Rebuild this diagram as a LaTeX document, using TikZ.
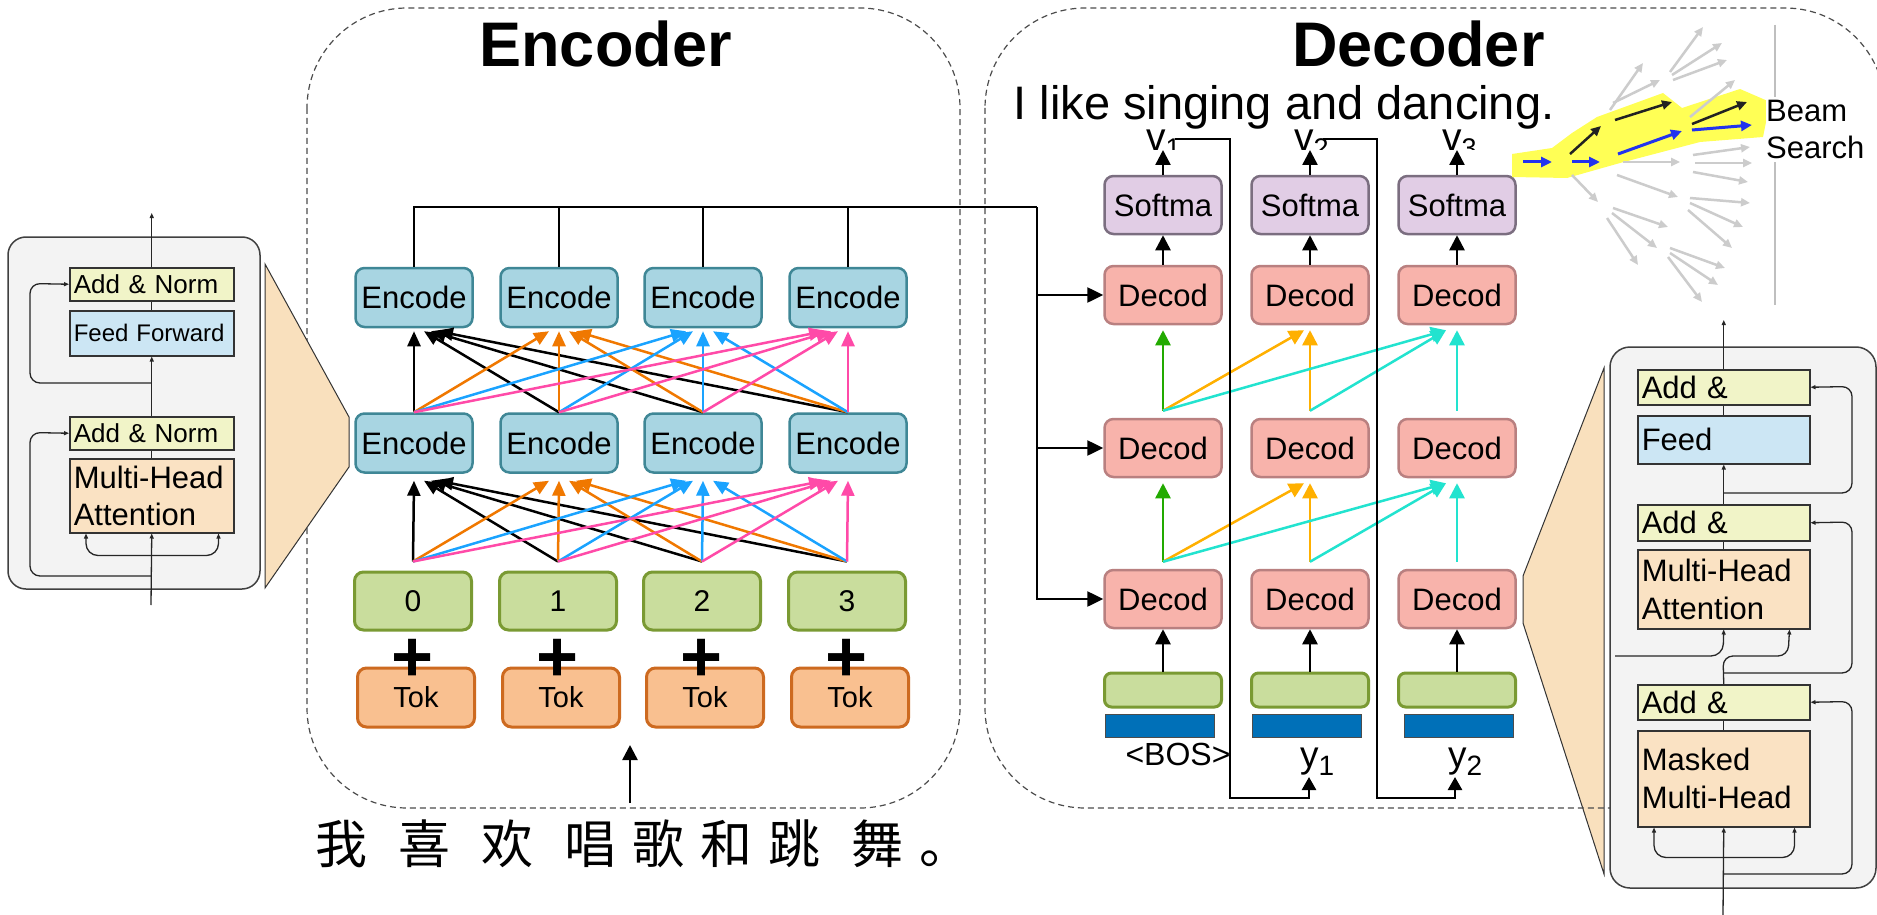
\documentclass[tikz,border=0pt]{standalone}
\usepackage{fontspec}
\setmainfont{Liberation Sans}
\newfontfamily\cjk{Noto Sans CJK SC}
\usetikzlibrary{arrows.meta}
\definecolor{encF}{HTML}{A8D5E2}
\definecolor{encD}{HTML}{3F8796}
\definecolor{smF}{HTML}{E1CDE5}
\definecolor{smD}{HTML}{7B6E80}
\definecolor{decF}{HTML}{F8B3AB}
\definecolor{decD}{HTML}{B98080}
\definecolor{grnF}{HTML}{C9DD9D}
\definecolor{grnD}{HTML}{7A9A33}
\definecolor{tokF}{HTML}{F9C090}
\definecolor{tokD}{HTML}{CD6A20}
\definecolor{barF}{HTML}{0070B8}
\definecolor{anF}{HTML}{F1F4C8}
\definecolor{ffF}{HTML}{CCE6F4}
\definecolor{mhF}{HTML}{FAE2C3}
\definecolor{panF}{HTML}{F3F3F3}
\definecolor{trapF}{HTML}{F9E0BD}
\definecolor{aOr}{HTML}{F07800}
\definecolor{aBl}{HTML}{1AA3FF}
\definecolor{aPk}{HTML}{FF4AA8}
\definecolor{aGr}{HTML}{22AA00}
\definecolor{aYe}{HTML}{FFB000}
\definecolor{aCy}{HTML}{22E3CF}
\definecolor{bsBlue}{HTML}{2233EE}
\definecolor{bsGray}{HTML}{CCCCCC}
\definecolor{bsDark}{HTML}{222222}
\definecolor{hl}{HTML}{FFFF55}
\newcommand\fs[1]{\fontsize{#1}{#1}\selectfont}
\tikzset{
  blk/.style={rounded corners=9pt, line width=2.5pt, inner sep=0pt, minimum width=117pt, minimum height=59pt, font=\fs{31}},
  encbox/.style={blk, fill=encF, draw=encD},
  smbox/.style={blk, fill=smF, draw=smD, minimum height=58pt},
  decbox/.style={blk, fill=decF, draw=decD, minimum height=58pt},
  posbox/.style={blk, fill=grnF, draw=grnD, line width=3pt, minimum height=58pt, font=\fs{30}},
  tokbox/.style={blk, fill=tokF, draw=tokD, line width=3pt, font=\fs{29}},
  embbox/.style={blk, fill=grnF, draw=grnD, line width=3pt, minimum height=34pt, rounded corners=7pt},
  barbox/.style={fill=barF, draw=black!70, line width=1pt, minimum width=109pt, minimum height=23pt, inner sep=0pt},
  conn/.style={line width=2.5pt, draw=black},
  carrow/.style={line width=2.5pt, -{Triangle[length=15pt,width=15pt]}},
  earrow/.style={line width=2.5pt, -{Triangle[length=15pt,width=13pt]}},
  pline/.style={line width=1.3pt, draw=black!85},
  parrow/.style={pline, -{Triangle[length=5pt,width=4pt]}},
  pbox/.style={draw=black!80, line width=1.5pt, inner xsep=4pt, inner ysep=0pt, align=left, anchor=north west},
  lbox/.style={pbox, text width=156pt},
  rbox/.style={pbox, text width=164pt, font=\fontsize{31}{38}\selectfont},
  dashbox/.style={dash pattern=on 6pt off 4pt, line width=1.2pt, draw=black!70, rounded corners=100pt},
  trap/.style={fill=trapF, draw=black!80, line width=1pt},
  bsg/.style={line width=2.5pt, draw=bsGray, -{Triangle[length=9pt,width=8pt]}},
  bsb/.style={line width=3pt, draw=bsBlue, -{Triangle[length=11pt,width=10pt]}},
  bsk/.style={line width=2.5pt, draw=bsDark, -{Triangle[length=10pt,width=9pt]}}
}
\begin{document}
\begin{tikzpicture}[x=1pt,y=-1pt]
\useasboundingbox (0,0) rectangle (1877,915);
\fill[white] (0,0) rectangle (1877,915);
\clip (0,0) rectangle (1877,915);

% ---------- dashed containers ----------
\draw[dashbox] (307,8) rectangle (960,808);
\draw[trap] (1604,368) -- (1523,576) -- (1523,623) -- (1604,874) -- cycle;
\draw[dashbox] (985,8) rectangle (1885,808);

% ---------- left panel (encoder layer) ----------
\draw[trap] (265,264) -- (349,417) -- (349,467) -- (265,588) -- cycle;
\draw[fill=panF, draw=black!75, line width=1.5pt, rounded corners=18pt] (8,237) rectangle (260,589);
\node[lbox, fill=anF, minimum height=33pt, font=\fs{26}] (lA1) at (69,267) {Add \& Norm};
\node[lbox, fill=ffF, minimum height=45pt, font=\fs{24}] (lFF) at (69,310) {Feed Forward};
\node[lbox, fill=anF, minimum height=33pt, font=\fs{26}] (lA2) at (69,416) {Add \& Norm};
\node[lbox, fill=mhF, minimum height=74pt, font=\fontsize{31}{37}\selectfont] (lMH) at (69,458) {Multi-Head\\Attention};
\coordinate (lin) at (151,605);
\coordinate (lr1) at (151,383);
\coordinate (lr2) at (151,576);
\draw[parrow] (lin) -- (lMH.south);
\draw[pline, {Triangle[length=5pt,width=4pt]}-{Triangle[length=5pt,width=4pt]}, rounded corners=12pt]
  ([xshift=17pt]lMH.south west) -- ++(0,22) -| ([xshift=-16pt]lMH.south east);
\draw[pline] (lMH.north) -- (lA2.south);
\draw[parrow] (lA2.north) -- (lFF.south);
\draw[pline] (lFF.north) -- (lA1.south);
\draw[parrow] (lA1.north) -- ++(0,-54);
\draw[parrow, rounded corners=10pt] (lr1) -- (30,383) -- (30,283.5) -- (lA1.west);
\draw[parrow, rounded corners=10pt] (lr2) -- (30,576) -- (30,432.5) -- (lA2.west);

% ---------- right panel (decoder layer) ----------
\draw[fill=panF, draw=black!75, line width=1.5pt, rounded corners=20pt] (1610,347) rectangle (1876,888);
\node[rbox, fill=anF, minimum height=35pt] (rA1) at (1637,369) {Add \&};
\node[rbox, fill=ffF, minimum height=48pt] (rF) at (1637,415) {Feed};
\node[rbox, fill=anF, minimum height=36pt] (rA2) at (1637,504) {Add \&};
\node[rbox, fill=mhF, minimum height=79pt] (rMH) at (1637,549) {Multi-Head\\Attention};
\node[rbox, fill=anF, minimum height=35pt] (rA3) at (1637,684) {Add \&};
\node[rbox, fill=mhF, minimum height=96pt] (rMM) at (1637,730) {Masked\\Multi-Head};
\coordinate (rin) at (1723,915);
\coordinate (rleft) at (1615,656);
\coordinate (rr1) at (1723,493);
\coordinate (rr2) at (1723,673);
\coordinate (rr3) at (1723,874);
\draw[parrow] (rin) -- (rMM.south);
\draw[pline, {Triangle[length=5pt,width=4pt]}-{Triangle[length=5pt,width=4pt]}, rounded corners=12pt]
  ([xshift=17pt]rMM.south west) -- ++(0,30) -| ([xshift=-16pt]rMM.south east);
\draw[pline] (rMM.north) -- (rA3.south);
\draw[parrow, rounded corners=10pt] (rA3.north) -- (1723,656) -- (1788,656) -- ([xshift=-21pt]rMH.south east);
\draw[parrow, rounded corners=12pt] (rleft) -- (1723,656) -- (rMH.south);
\draw[pline] (rMH.north) -- (rA2.south);
\draw[parrow] (rA2.north) -- (rF.south);
\draw[pline] (rF.north) -- (rA1.south);
\draw[parrow] (rA1.north) -- ++(0,-49);
\draw[parrow, rounded corners=10pt] (rr1) -- (1852,493) -- (1852,386.5) -- (rA1.east);
\draw[parrow, rounded corners=10pt] (rr2) -- (1852,673) -- (1852,522) -- (rA2.east);
\draw[parrow, rounded corners=10pt] (rr3) -- (1852,874) -- (1852,701.5) -- (rA3.east);

% ---------- titles ----------
\node[font=\bfseries\fs{63}, anchor=base, inner sep=0pt] (enct) at (605.5,67) {Encoder};
\node[font=\bfseries\fs{63}, anchor=base, inner sep=0pt] (dect) at (1418.5,67) {Decoder};
\node[font=\fs{47}, anchor=base, inner sep=0pt] (sent) at (1284,120) {I like singing and dancing.};
\node[anchor=west, inner sep=0pt] (zh) at (315,843.5)
  {\cjk\fontsize{52}{52}\selectfont\spaceskip=15pt\relax 我\kern16pt{} 喜\kern16pt{} 欢\kern16pt{} 唱\kern16pt 歌\kern16pt 和\kern16pt 跳\kern16pt{} 舞\kern16pt 。};

% ---------- encoder ----------
\foreach \i/\x in {0/414,1/559,2/703,3/848}{
  \node[encbox] (t\i) at (\x,297.5) {Encode};
  \node[encbox] (m\i) at (\x,443) {Encode};
  \node[posbox] (p\i) at (\x-1,601) {\i};
  \node[tokbox] (k\i) at (\x+2,697.5) {Tok};
  \node[font=\bfseries\fs{72}, inner sep=0pt] (plus\i) at (\x-1,660) {+};
}
\foreach \j/\c in {0/black,1/aOr,2/aBl,3/aPk}{
  \foreach \i in {0,1,2,3}{
    \pgfmathsetmacro\off{7*(\i-\j)+3*sign(\i-\j)}
    \draw[earrow, draw=\c] (m\i.north) -- ([xshift=\off pt, yshift=-3pt]t\j.south);
    \draw[earrow, draw=\c] ([yshift=9pt]p\i.north) -- ([xshift=\off pt, yshift=-7pt]m\j.south);
  }
}
\coordinate (encIn) at (630,803);
\coordinate (encInT) at (630,745);
\draw[conn, -{Triangle[length=15pt,width=15pt]}] (encIn) -- (encInT);

% ---------- decoder ----------
\foreach \c/\x in {1/1163,2/1310,3/1457}{
  \node[smbox] (s\c) at (\x,205) {Softma};
  \node[decbox] (d1\c) at (\x,295) {Decod};
  \node[decbox] (d2\c) at (\x,448) {Decod};
  \node[decbox] (d3\c) at (\x,599) {Decod};
  \node[embbox] (e\c) at (\x,690) {};
  \draw[carrow] (d1\c.north) -- (s\c.south);
  \draw[carrow] (e\c.north) -- (d3\c.south);
}
\node[barbox] (b1) at (1159.5,725.5) {};
\node[barbox] (b2) at (1306.5,725.5) {};
\node[barbox] (b3) at (1458.5,725.5) {};
\coordinate (vtop) at (0,150);
\foreach \c in {1,2,3}{ \draw[carrow] (s\c.north) -- (s\c.north |- vtop); }

% colored decoder connections
\foreach \lo/\hi in {3/2,2/1}{
  \draw[carrow, draw=aGr] ([yshift=7pt]d\lo1.north) -- ([yshift=-5pt]d\hi1.south);
  \draw[carrow, draw=aYe] ([yshift=7pt]d\lo1.north) -- ([xshift=-6pt,yshift=-5pt]d\hi2.south);
  \draw[carrow, draw=aYe] ([yshift=7pt]d\lo2.north) -- ([yshift=-5pt]d\hi2.south);
  \draw[carrow, draw=aCy] ([yshift=7pt]d\lo1.north) -- ([xshift=-11pt,yshift=-5pt]d\hi3.south);
  \draw[carrow, draw=aCy] ([yshift=7pt]d\lo2.north) -- ([xshift=-11pt,yshift=-5pt]d\hi3.south);
  \draw[carrow, draw=aCy] ([yshift=7pt]d\lo3.north) -- ([yshift=-5pt]d\hi3.south);
}

% encoder output bus
\coordinate (bus) at (1037,207);
\draw[conn] (t0.north) |- (bus);
\foreach \i in {1,2,3}{ \draw[conn] (t\i.north) -- (t\i.north |- bus); }
\draw[conn, -{Triangle[length=16pt,width=15pt]}] (bus) |- (d31.west);
\draw[conn, -{Triangle[length=16pt,width=15pt]}] (bus |- d11.west) -- (d11.west);
\draw[conn, -{Triangle[length=16pt,width=15pt]}] (bus |- d21.west) -- (d21.west);

% output labels (clipped subscripts)
\begin{scope}
  \clip (1100,100) rectangle (1520,150);
  \node[anchor=base west, inner sep=0pt, font=\fs{39}] (v1) at (1146,150) {v\raisebox{-7pt}{\fs{27}1}};
  \node[anchor=base west, inner sep=0pt, font=\fs{39}] (v2) at (1294,150) {v\raisebox{-7pt}{\fs{27}2}};
  \node[anchor=base west, inner sep=0pt, font=\fs{39}] (v3) at (1442,150) {v\raisebox{-7pt}{\fs{27}3}};
\end{scope}
\node[anchor=base west, inner sep=0pt, font=\fs{37}] (y1) at (1300,767) {y\raisebox{-8pt}{\fs{28}1}};
\node[anchor=base west, inner sep=0pt, font=\fs{37}] (y2) at (1448,767) {y\raisebox{-8pt}{\fs{28}2}};
\node[anchor=base, inner sep=0pt, font=\fs{32}] (bos) at (1178,765) {\textless BOS\textgreater};

% feedback loops
\coordinate (v1r) at (1175,139);
\coordinate (y1a) at (1309,777);
\coordinate (v2r) at (1323,139);
\coordinate (y2a) at (1455,777);
\draw[conn, -{Triangle[length=13pt,width=14pt]}] (v1r) -| (1230,798) -| (y1a);
\draw[conn, -{Triangle[length=13pt,width=14pt]}] (v2r) -| (1377,798) -| (y2a);

% ---------- beam search ----------
\draw[line width=1.5pt, draw=black!25] (1775,25) -- (1775,305);
\fill[hl] (1512,154) -- (1552,148) -- (1572,133) -- (1597,117) -- (1663,93) -- (1682,108) -- (1740,89) -- (1770,102) -- (1763,137) -- (1700,142) -- (1620,163) -- (1567,178) -- (1512,177) -- cycle;
\foreach \ax/\ay/\bx/\by in {1572/175/1598/202, 1610/110/1643/63, 1613/103/1660/80, 1670/72/1703/27, 1672/75/1722/43, 1673/80/1727/60, 1690/117/1735/80, 1623/162/1680/162, 1617/175/1678/197, 1693/155/1750/147, 1695/163/1752/163, 1693/172/1748/182, 1690/198/1750/203, 1690/203/1743/227, 1688/210/1732/248, 1613/208/1668/227, 1612/213/1657/248, 1607/218/1638/265, 1670/248/1725/268, 1670/253/1718/285, 1668/257/1702/302}{
  \draw[bsg] (\ax,\ay) -- (\bx,\by);
}
\draw[bsb] (1523,162) -- (1552,162);
\draw[bsb] (1572,162) -- (1600,162);
\draw[bsb] (1618,154) -- (1682,131);
\draw[bsb] (1692,130) -- (1752,125);
\draw[bsk] (1570,154) -- (1601,126);
\draw[bsk] (1615,120) -- (1672,102);
\draw[bsk] (1692,124) -- (1747,102);
\node[anchor=north west, inner sep=0pt, inner ysep=3pt, fill=white, align=left, font=\fontsize{31}{37}\selectfont] (beam) at (1766,97) {Beam\\Search};
\end{tikzpicture}
\end{document}
